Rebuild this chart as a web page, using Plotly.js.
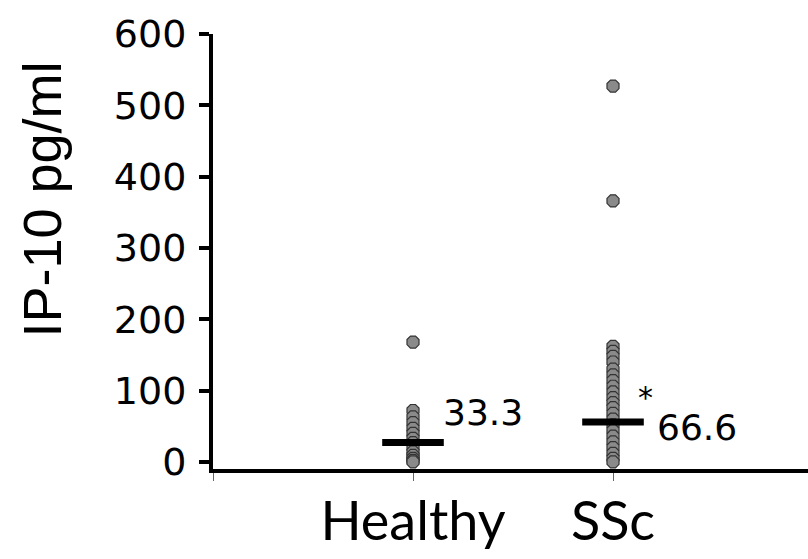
<!DOCTYPE html>
<html>
<head>
<meta charset="utf-8">
<script src="https://cdn.plot.ly/plotly-3.0.1.min.js"></script>
<style>html,body{margin:0;padding:0;background:#fff;}#chart{width:808px;height:559px;}</style>
</head>
<body>
<div id="chart"></div>
<script>
// Data
const groups = ["Healthy", "SSc"];
const groupPos = [1, 2];
const healthyValues = [168, 72, 63, 55, 47, 40, 33, 27, 20, 14, 9, 5, 2, 0];
const sscValues = [527, 366, 162, 155, 148, 140, 130, 122, 114, 106, 98, 90, 83, 76, 68, 60, 52, 44, 36, 28, 20, 12, 5, 0];
const medianBars = [27, 56];
const medianLabels = ["33.3", "66.6"];
const yTicks = [0, 100, 200, 300, 400, 500, 600];

const pointMarker = {symbol: "octagon", size: 13, color: "#8a8a8a", line: {color: "#333333", width: 1.2}};

const traces = [
  {x: healthyValues.map(() => groupPos[0]), y: healthyValues, type: "scatter", mode: "markers",
   marker: pointMarker, cliponaxis: false, showlegend: false, hoverinfo: "y"},
  {x: sscValues.map(() => groupPos[1]), y: sscValues, type: "scatter", mode: "markers",
   marker: pointMarker, cliponaxis: false, showlegend: false, hoverinfo: "y"},
  {x: groupPos, y: medianBars, type: "scatter", mode: "markers", cliponaxis: false, showlegend: false,
   marker: {symbol: "line-ew", size: 44, line: {color: "#000", width: 7}}, hoverinfo: "y"}
];

const txtFont = {family: "DejaVu Sans, Arial, sans-serif", color: "#000"};
const titleFont = {family: "Liberation Sans, Arial, sans-serif", color: "#000"};

const layout = {
  width: 808, height: 559,
  margin: {l: 213, r: 0, t: 34, b: 90, pad: 0},
  paper_bgcolor: "#fff", plot_bgcolor: "#fff",
  showlegend: false,
  xaxis: {
    range: [0, 2.975], showgrid: false, zeroline: false,
    showline: true, linecolor: "#000", linewidth: 4,
    tickmode: "array", tickvals: [0].concat(groupPos), ticktext: [""].concat(groups),
    ticks: "outside", ticklen: 8, tickwidth: 1, tickcolor: "#666",
    ticklabelstandoff: -6,
    tickfont: {family: "Lato, Carlito, Calibri, sans-serif", size: 54, color: "#000"}
  },
  yaxis: {
    range: [-10, 600], showgrid: false, zeroline: false,
    showline: true, linecolor: "#000", linewidth: 4,
    tickmode: "array", tickvals: yTicks, ticktext: yTicks.map(String),
    ticks: "outside", ticklen: 10, tickwidth: 4, tickcolor: "#000",
    ticklabelstandoff: 5,
    tickfont: Object.assign({size: 38}, txtFont)
  },
  annotations: [
    {xref: "paper", yref: "paper", x: -0.287, y: 0.62, text: "IP-10 pg/ml", textangle: -90,
     showarrow: false, xanchor: "center", yanchor: "middle", font: Object.assign({size: 54}, titleFont)},
    {xref: "x", yref: "y", x: 1.14, y: 69, text: medianLabels[0], showarrow: false,
     xanchor: "left", yanchor: "middle", font: Object.assign({size: 36}, txtFont)},
    {xref: "x", yref: "y", x: 2.21, y: 48, text: medianLabels[1], showarrow: false,
     xanchor: "left", yanchor: "middle", font: Object.assign({size: 36}, txtFont)},
    {xref: "x", yref: "y", x: 2.16, y: 90, text: "*", showarrow: false,
     xanchor: "center", yanchor: "middle", font: Object.assign({size: 30}, txtFont)}
  ]
};

Plotly.newPlot("chart", traces, layout, {displayModeBar: false, staticPlot: true});
</script>
</body>
</html>
